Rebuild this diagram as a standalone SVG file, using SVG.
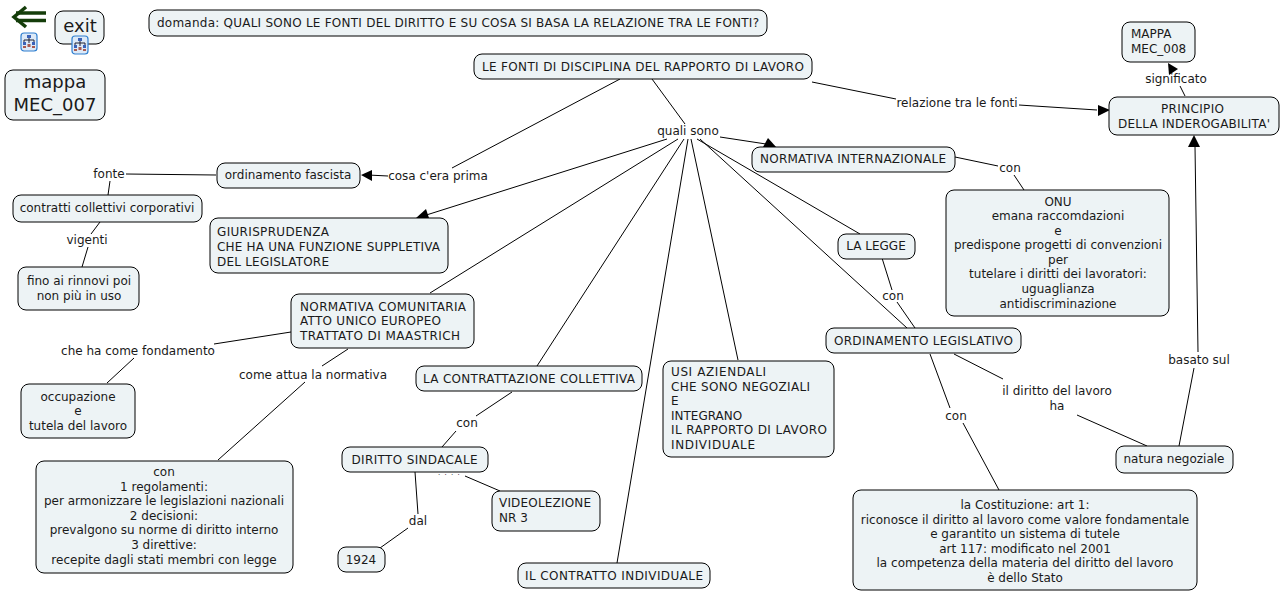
<svg xmlns="http://www.w3.org/2000/svg" width="1280" height="591" viewBox="0 0 1280 591">
<style>
text{font-family:"DejaVu Sans",Verdana,sans-serif;font-size:12px;fill:#1a1a1a;text-anchor:middle}
.l{text-anchor:start}
.b{font-size:18px}
rect{fill:#edf3f5;stroke:#000;stroke-width:1}
#connectors line{stroke:#000;stroke-width:1}
.a{fill:#000;stroke:none}
</style>
<defs>
<g id="ic"><rect x="-6" y="-8" width="16" height="18" rx="3" style="fill:#dce9f7;stroke:#2f7fd0;stroke-width:1.2"/><path d="M2 -4V-1M-3 1V-1H7V1M2 -1V2" style="fill:none;stroke:#223;stroke-width:1"/><path d="M0 -6h4v3h-4zM-4 1h3v3h-3zM5 1h3v3h-3z" style="fill:#3a62b8;stroke:none"/><path d="M0.500 3h3v3h-3zM-4 5h3v2h-3zM5 5h3v2h-3z" style="fill:#a85a50;stroke:none"/></g>
</defs>
<g id="connectors">
<line x1="652" y1="79" x2="685" y2="124"/>
<line x1="620" y1="79" x2="452" y2="168"/>
<line x1="720" y1="137" x2="766" y2="144"/>
<line x1="667" y1="139" x2="420" y2="217"/>
<line x1="678" y1="139" x2="430" y2="293"/>
<line x1="684" y1="139" x2="537" y2="366"/>
<line x1="688" y1="139" x2="617" y2="563"/>
<line x1="691" y1="139" x2="738" y2="360"/>
<line x1="697" y1="139" x2="860" y2="234"/>
<line x1="700" y1="139" x2="907" y2="328"/>
<line x1="812" y1="82" x2="896" y2="99"/>
<line x1="1019" y1="105" x2="1097" y2="110"/>
<line x1="1180" y1="86" x2="1185" y2="96"/>
<line x1="388" y1="176" x2="368" y2="175"/>
<line x1="216" y1="175" x2="126" y2="174"/>
<line x1="110" y1="181" x2="108" y2="195"/>
<line x1="100" y1="222" x2="91" y2="234"/>
<line x1="88" y1="247" x2="82" y2="267"/>
<line x1="955" y1="157" x2="998" y2="166"/>
<line x1="1014" y1="175" x2="1024" y2="190"/>
<line x1="882" y1="258" x2="892" y2="290"/>
<line x1="897" y1="302" x2="915" y2="328"/>
<line x1="954" y1="354" x2="1003" y2="379"/>
<line x1="1077" y1="415" x2="1147" y2="446"/>
<line x1="930" y1="354" x2="950" y2="408"/>
<line x1="963" y1="423" x2="999" y2="490"/>
<line x1="1179" y1="446" x2="1194" y2="368"/>
<line x1="1198" y1="352" x2="1195" y2="146"/>
<line x1="291" y1="332" x2="214" y2="344"/>
<line x1="134" y1="358" x2="107" y2="383"/>
<line x1="348" y1="349" x2="322" y2="366"/>
<line x1="305" y1="382" x2="218" y2="460"/>
<line x1="512" y1="392" x2="476" y2="416"/>
<line x1="456" y1="431" x2="442" y2="447"/>
<line x1="415" y1="472" x2="418" y2="514"/>
<line x1="408" y1="528" x2="380" y2="548"/>
<line x1="465" y1="476" x2="500" y2="491"/>
<path class="a" d="M777 148l-9 -10-5 9z"/>
<path class="a" d="M416 218l13 0-3 -9z"/>
<path class="a" d="M361 175l11 -5v11z"/>
<path class="a" d="M1110 110l-12 -5v11z"/>
<path class="a" d="M1168 63l10 6-9 6z"/>
<path class="a" d="M1194 135l-6 12h12z"/>
</g>
<g id="back"><path d="M26 7l-12 10 12 10" style="fill:none;stroke:#143d0a;stroke-width:3.500"/><path d="M16 13h30M16 20.500h30" style="fill:none;stroke:#143d0a;stroke-width:3.300"/><use href="#ic" x="27" y="41"/></g>
<g id="exit"><rect x="55" y="11" width="49" height="33" rx="8"/><text class="b" x="80" y="32">exit</text><use href="#ic" x="78" y="44"/></g>
<g id="mappa7"><rect x="5" y="70" width="100" height="50" rx="8"/><text class="b" x="55" y="88">mappa</text><text class="b" x="55" y="111">MEC_007</text></g>
<g id="domanda"><rect x="149" y="10" width="618" height="26" rx="8"/><text x="458" y="27" textLength="602">domanda: QUALI SONO LE FONTI DEL DIRITTO E SU COSA SI BASA LA RELAZIONE TRA LE FONTI?</text></g>
<g id="fonti"><rect x="474" y="54" width="338" height="25" rx="8"/><text x="643" y="71" textLength="322">LE FONTI DI DISCIPLINA DEL RAPPORTO DI LAVORO</text></g>
<g id="mappa8"><rect x="1122" y="22" width="73" height="40" rx="8"/><text class="l" x="1131" y="38">MAPPA</text><text class="l" x="1131" y="53">MEC_008</text></g>
<g id="principio"><rect x="1109" y="97" width="170" height="38" rx="8"/><text x="1192.500" y="113" textLength="63">PRINCIPIO</text><text x="1194" y="128" textLength="152">DELLA INDEROGABILITA'</text></g>
<g id="internazionale"><rect x="752" y="147" width="203" height="25" rx="8"/><text x="853" y="163" textLength="186">NORMATIVA INTERNAZIONALE</text></g>
<g id="fascista"><rect x="217" y="163" width="143" height="25" rx="8"/><text x="288" y="179">ordinamento fascista</text></g>
<g id="corporativi"><rect x="13" y="195" width="189" height="27" rx="8"/><text x="107" y="212">contratti collettivi corporativi</text></g>
<g id="rinnovi"><rect x="18" y="267" width="121" height="43" rx="8"/><text x="79" y="285">fino ai rinnovi poi</text><text x="79" y="300">non più in uso</text></g>
<g id="giurisprudenza"><rect x="210" y="218" width="238" height="55" rx="8"/><text class="l" x="217" y="236" textLength="112">GIURISPRUDENZA</text><text class="l" x="217" y="251" textLength="223">CHE HA UNA FUNZIONE SUPPLETIVA</text><text class="l" x="217" y="266" textLength="112">DEL LEGISLATORE</text></g>
<g id="onu"><rect x="946" y="190" width="223" height="126" rx="8"/><text x="1058" y="206">ONU</text><text x="1058" y="220">emana raccomdazioni</text><text x="1058" y="235">e</text><text x="1058" y="249">predispone progetti di convenzioni</text><text x="1058" y="264">per</text><text x="1058" y="278">tutelare i diritti dei lavoratori:</text><text x="1058" y="293">uguaglianza</text><text x="1058" y="308">antidiscriminazione</text></g>
<g id="legge"><rect x="838" y="234" width="77" height="25" rx="8"/><text x="876" y="250">LA LEGGE</text></g>
<g id="comunitaria"><rect x="291" y="294" width="183" height="54" rx="8"/><text class="l" x="300" y="311" textLength="166">NORMATIVA COMUNITARIA</text><text class="l" x="300" y="325" textLength="141">ATTO UNICO EUROPEO</text><text class="l" x="300" y="340" textLength="160">TRATTATO DI MAASTRICH</text></g>
<g id="ordinamento"><rect x="826" y="328" width="195" height="25" rx="8"/><text x="923.500" y="345" textLength="179">ORDINAMENTO LEGISLATIVO</text></g>
<g id="contrattazione"><rect x="416" y="366" width="226" height="25" rx="8"/><text x="529" y="383" textLength="212">LA CONTRATTAZIONE COLLETTIVA</text></g>
<g id="usi"><rect x="663" y="361" width="171" height="96" rx="8"/><text class="l" x="671" y="376" textLength="95">USI AZIENDALI</text><text class="l" x="671" y="391" textLength="139">CHE SONO NEGOZIALI</text><text class="l" x="671" y="405">E</text><text class="l" x="671" y="420">INTEGRANO</text><text class="l" x="671" y="434" textLength="156">IL RAPPORTO DI LAVORO</text><text class="l" x="671" y="449" textLength="84">INDIVIDUALE</text></g>
<g id="occupazione"><rect x="21" y="384" width="114" height="54" rx="8"/><text x="78" y="401">occupazione</text><text x="78" y="415">e</text><text x="78" y="430">tutela del lavoro</text></g>
<g id="negoziale"><rect x="1116" y="446" width="117" height="27" rx="8"/><text x="1174" y="463">natura negoziale</text></g>
<g id="sindacale"><rect x="342" y="447" width="146" height="25" rx="8"/><text x="414.500" y="464" textLength="126">DIRITTO SINDACALE</text></g>
<g id="regolamenti"><rect x="36" y="461" width="257" height="112" rx="8"/><text x="164" y="476">con</text><text x="164" y="491">1 regolamenti:</text><text x="164" y="505">per armonizzare le legislazioni nazionali</text><text x="164" y="520">2 decisioni:</text><text x="164" y="534">prevalgono su norme di diritto interno</text><text x="164" y="549">3 direttive:</text><text x="164" y="564">recepite dagli stati membri con legge</text></g>
<g id="videolezione"><rect x="492" y="491" width="108" height="40" rx="8"/><text class="l" x="499" y="507" textLength="92">VIDEOLEZIONE</text><text class="l" x="499" y="522">NR 3</text></g>
<g id="costituzione"><rect x="853" y="490" width="344" height="100" rx="8"/><text x="1025" y="508.500">la Costituzione: art 1:</text><text x="1025" y="523.500">riconosce il diritto al lavoro come valore fondamentale</text><text x="1025" y="537.500">e garantito un sistema di tutele</text><text x="1025" y="552.500">art 117: modificato nel 2001</text><text x="1025" y="566.500">la competenza della materia del diritto del lavoro</text><text x="1025" y="581.500">è dello Stato</text></g>
<g id="anno"><rect x="338" y="547" width="47" height="25" rx="8"/><text x="361" y="564">1924</text></g>
<g id="individuale"><rect x="518" y="563" width="192" height="25" rx="8"/><text x="614" y="580" textLength="178">IL CONTRATTO INDIVIDUALE</text></g>
<g id="labels">
<text x="688" y="135">quali sono</text>
<text x="957" y="107">relazione tra le fonti</text>
<text x="1176" y="82.500">significato</text>
<text x="438" y="179.500">cosa c'era prima</text>
<text x="109" y="178">fonte</text>
<text x="87" y="244">vigenti</text>
<text x="1010" y="172">con</text>
<text x="893" y="300">con</text>
<text x="1057" y="395">il diritto del lavoro</text>
<text x="1057" y="410">ha</text>
<text x="956" y="420">con</text>
<text x="1199" y="364">basato sul</text>
<text x="138" y="355">che ha come fondamento</text>
<text x="313" y="379">come attua la normativa</text>
<text x="467" y="427">con</text>
<text x="418" y="525">dal</text>
<text x="451" y="474.500" style="font-size:7px;letter-spacing:4.300px">....</text>
</g>
</svg>
